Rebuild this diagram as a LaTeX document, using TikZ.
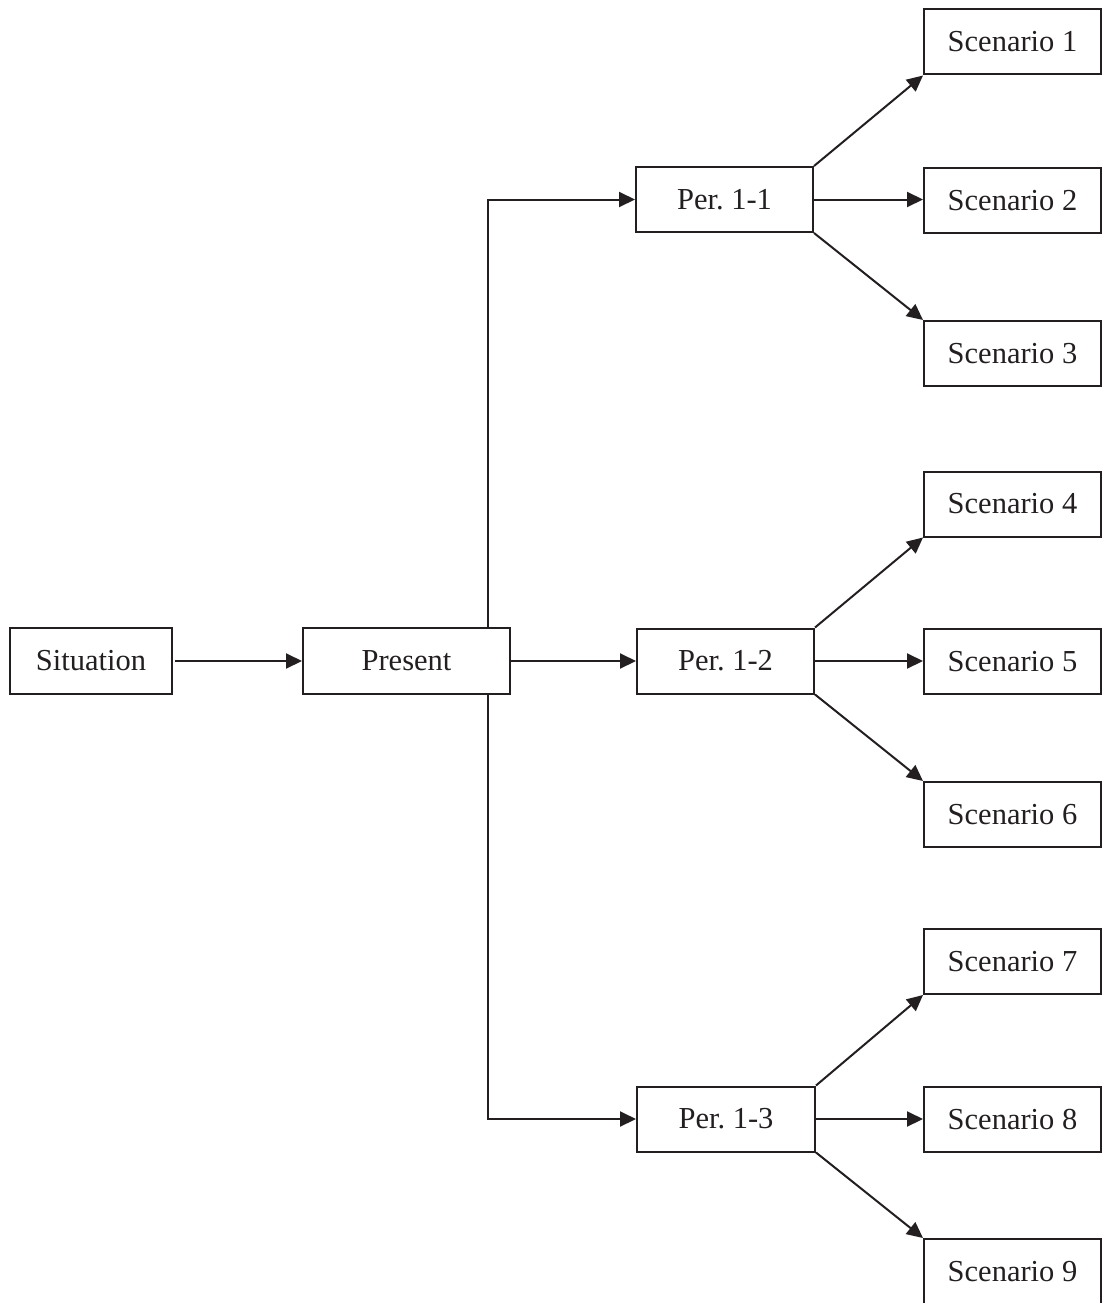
\documentclass[tikz,border=0pt]{standalone}
\usepackage{fontspec}
\setmainfont{Liberation Serif}
\frenchspacing
\usetikzlibrary{arrows.meta}
\definecolor{ink}{RGB}{35,31,32}
\begin{document}
\begin{tikzpicture}[x=1pt,y=-1pt,
  box/.style={draw=ink,line width=2pt,rectangle,inner sep=0pt,
    minimum height=65pt,text=ink,font=\fontsize{30.5}{36}\selectfont},
  link/.style={draw=ink,line width=2pt,-{Triangle[length=16pt,width=15pt]}}]
\useasboundingbox (0,0) rectangle (1102,1303);
\clip (0,0) rectangle (1102,1303);
% stages
\node[box,minimum width=162pt,minimum height=66pt] (sit) at (91,661) {Situation};
\node[box,minimum width=207pt,minimum height=66pt] (pres) at (406.5,661) {Present};
\node[box,minimum width=177pt] (p11) at (724.5,199.5) {Per. 1-1};
\node[box,minimum width=177pt] (p12) at (725.5,661) {Per. 1-2};
\node[box,minimum width=178pt] (p13) at (726,1119) {Per. 1-3};
% scenarios
\node[box,minimum width=177pt] (s1) at (1012.5,42) {Scenario 1};
\node[box,minimum width=177pt] (s2) at (1012.5,200.5) {Scenario 2};
\node[box,minimum width=177pt] (s3) at (1012.5,353.5) {Scenario 3};
\node[box,minimum width=177pt] (s4) at (1012.5,504) {Scenario 4};
\node[box,minimum width=177pt] (s5) at (1012.5,661.5) {Scenario 5};
\node[box,minimum width=177pt] (s6) at (1012.5,814.5) {Scenario 6};
\node[box,minimum width=177pt] (s7) at (1012.5,961.5) {Scenario 7};
\node[box,minimum width=177pt] (s8) at (1012.5,1119.5) {Scenario 8};
\node[box,minimum width=177pt] (s9) at (1012.5,1271.5) {Scenario 9};
% trunk position
\coordinate (tx) at (488,0);
% connectors
\draw[link] (sit.east) ++(2,0) -- (pres.west);
\draw[link] (pres.north -| tx) |- (p11.west);
\draw[link] (pres.east) -- (p12.west);
\draw[link] (pres.south -| tx) |- (p13.west);
\foreach \p/\a/\b/\c in {p11/s1/s2/s3,p12/s4/s5/s6,p13/s7/s8/s9}{
  \draw[link] (\p.north east) -- (\a.south west);
  \draw[link] (\p.east) -- (\p.east -| \b.west);
  \draw[link] (\p.south east) -- (\c.north west);
}
\end{tikzpicture}
\end{document}
